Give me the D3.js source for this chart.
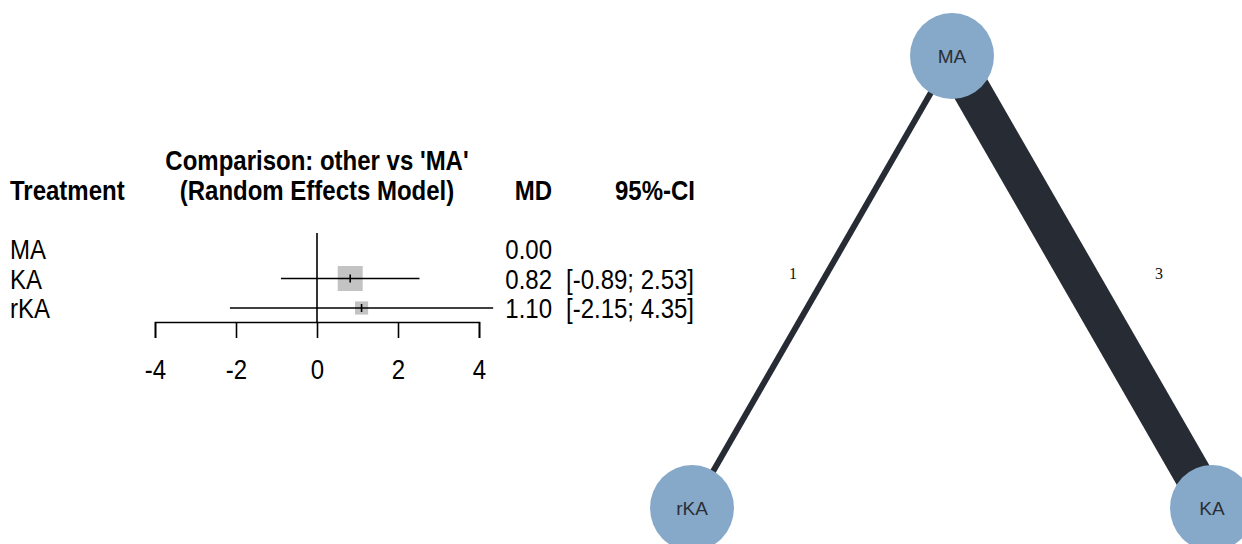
<!DOCTYPE html>
<html>
<head>
<meta charset="utf-8">
<script src="https://cdn.jsdelivr.net/npm/d3@7"></script>
<style>
  html, body { margin: 0; padding: 0; background: #fff; }
  svg { display: block; }
</style>
</head>
<body>
<svg id="chart" width="1242" height="544"></svg>
<script>
// Forest plot data: treatment vs reference 'MA' (random effects model)
const treatments = ["MA", "KA", "rKA"];
const md = [0.00, 0.82, 1.10];
const ciLower = [null, -0.89, -2.15];
const ciUpper = [null, 2.53, 4.35];
const xTicks = [-4, -2, 0, 2, 4];

// Network graph data
const nodes = ["MA", "rKA", "KA"];
const edgeFrom = ["MA", "MA"];
const edgeTo = ["rKA", "KA"];
const edgeStudies = [1, 3];

const SANS = "'Liberation Sans', Arial, sans-serif";
const SERIF = "'Liberation Serif', 'Times New Roman', serif";
const stretch = 1.13; // tall, narrow lettering of the forest plot

const svg = d3.select("#chart");

// text placed at (x, y) with a vertical stretch about its baseline
function label(g, x, y, str, opts = {}) {
  return g.append("text")
    .attr("transform", `translate(${x},${y}) scale(1,${stretch})`)
    .attr("text-anchor", opts.anchor || "start")
    .style("font-family", SANS)
    .style("font-size", "24px")
    .style("font-weight", opts.bold ? "bold" : "normal")
    .attr("fill", "#000")
    .text(str);
}

// ---------- Forest plot ----------
const x = d3.scaleLinear().domain([-4, 4]).range([155, 479]);
const y = d3.scalePoint().domain(treatments).range([249, 308]);
const axisY = 322;

const forest = svg.append("g");

// headers
label(forest, 10, 200, "Treatment", { bold: true });
label(forest, x(0), 170, "Comparison: other vs 'MA'", { bold: true, anchor: "middle" });
label(forest, x(0), 200, "(Random Effects Model)", { bold: true, anchor: "middle" });
label(forest, 552, 200, "MD", { bold: true, anchor: "end" });
label(forest, 695, 200, "95%-CI", { bold: true, anchor: "end" });

// reference line at zero
forest.append("line")
  .attr("x1", x(0)).attr("x2", x(0))
  .attr("y1", 233).attr("y2", axisY)
  .attr("stroke", "#000").attr("stroke-width", 1.6);

// rows
const rows = treatments.map((t, i) => ({ t, md: md[i], lo: ciLower[i], hi: ciUpper[i] }));
const fx = rows.filter(r => r.lo !== null);
const se = r => (r.hi - r.lo) / (2 * 1.96);
const sideScale = 21.8; // square side proportional to 1/SE

forest.selectAll(".sq").data(fx).join("rect")
  .attr("x", r => x(r.md) - sideScale / se(r) / 2)
  .attr("y", r => y(r.t) - sideScale / se(r) / 2)
  .attr("width", r => sideScale / se(r))
  .attr("height", r => sideScale / se(r))
  .attr("fill", "#c3c3c3");

forest.selectAll(".ci").data(fx).join("line")
  .attr("x1", r => x(r.lo)).attr("x2", r => x(r.hi))
  .attr("y1", r => y(r.t)).attr("y2", r => y(r.t))
  .attr("stroke", "#000").attr("stroke-width", 1.6);

forest.selectAll(".est").data(fx).join("line")
  .attr("x1", r => x(r.md)).attr("x2", r => x(r.md))
  .attr("y1", r => y(r.t) - 4).attr("y2", r => y(r.t) + 4)
  .attr("stroke", "#000").attr("stroke-width", 1.6);

// row labels and values
rows.forEach(r => {
  label(forest, 10, y(r.t) + 10, r.t);
  label(forest, 552, y(r.t) + 10, r.md.toFixed(2), { anchor: "end" });
  if (r.lo !== null) {
    label(forest, 694, y(r.t) + 10, `[${r.lo.toFixed(2)}; ${r.hi.toFixed(2)}]`, { anchor: "end" });
  }
});

// x axis
const axis = d3.axisBottom(x).tickValues(xTicks).tickSize(16).tickSizeOuter(16)
  .tickFormat(d => d < 0 ? "-" + Math.abs(d) : String(d));
const ax = forest.append("g").attr("transform", `translate(0,${axisY})`).call(axis);
ax.select(".domain").attr("stroke", "#000").attr("stroke-width", 1.6);
ax.selectAll(".tick line").attr("stroke", "#000").attr("stroke-width", 1.6);
ax.selectAll(".tick text")
  .attr("y", null).attr("dy", null)
  .attr("transform", `translate(0,57) scale(1,${stretch})`)
  .style("font-family", SANS).style("font-size", "24px")
  .attr("fill", "#000");

// ---------- Network graph ----------
const netX = d3.scalePoint().domain(["rKA", "MA", "KA"]).range([692, 1212]);
// reference treatment on top, the others along the bottom
const netY = d3.scaleOrdinal().domain(nodes).range([56, 508, 508]);
const pos = n => [netX(n), netY(n)];
const widthScale = d3.scaleLinear().domain([1, 3]).range([6, 38]);

const edges = edgeFrom.map((f, i) => ({ from: f, to: edgeTo[i], n: edgeStudies[i] }));
const net = svg.append("g");

net.selectAll(".edge").data(edges).join("line")
  .attr("x1", e => pos(e.from)[0]).attr("y1", e => pos(e.from)[1])
  .attr("x2", e => pos(e.to)[0]).attr("y2", e => pos(e.to)[1])
  .attr("stroke", "#272b33").attr("stroke-width", e => widthScale(e.n));

net.selectAll(".elab").data(edges).join("text")
  .attr("x", e => {
    const mx = (pos(e.from)[0] + pos(e.to)[0]) / 2;
    const dir = Math.sign(pos(e.to)[0] - pos(e.from)[0]);
    return mx + dir * (20 + 1.5 * widthScale(e.n));
  })
  .attr("y", e => (pos(e.from)[1] + pos(e.to)[1]) / 2 - 3)
  .attr("text-anchor", "middle")
  .style("font-family", SERIF)
  .style("font-size", "16px")
  .attr("fill", "#111")
  .text(e => e.n);

const nodeG = net.selectAll(".node").data(nodes).join("g")
  .attr("transform", n => `translate(${pos(n)[0]},${pos(n)[1]})`);
nodeG.append("ellipse").attr("rx", 42).attr("ry", 43).attr("fill", "#86a9c9");
nodeG.append("text").attr("text-anchor", "middle").attr("dy", "0.35em")
  .style("font-family", SANS).style("font-size", "19px")
  .attr("fill", "#2a2e35").text(n => n);
</script>
</body>
</html>
